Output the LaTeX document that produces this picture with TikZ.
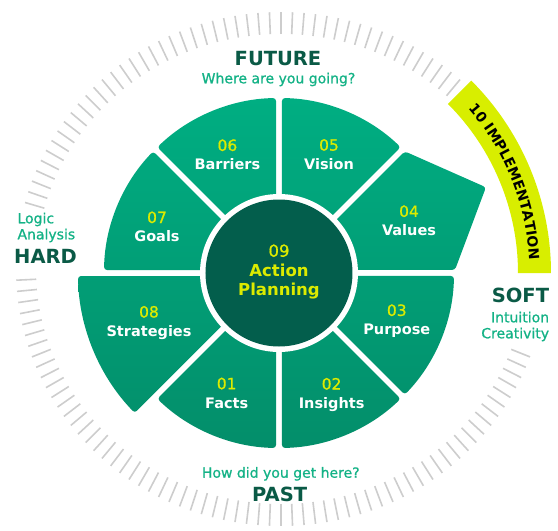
\documentclass[tikz,border=0pt]{standalone}
\usepackage{fontspec}
\setmainfont{DejaVu Sans}
\newfontfamily\mediumfont{DejaVu Sans}[FakeBold=0.9]
\usetikzlibrary{decorations.text}
\definecolor{wheeltop}{RGB}{0,174,130}
\definecolor{wheelbot}{RGB}{3,142,106}
\definecolor{hubgreen}{RGB}{3,94,76}
\definecolor{numyellow}{RGB}{220,235,0}
\definecolor{bandyellow}{RGB}{216,238,0}
\definecolor{headgreen}{RGB}{10,90,70}
\definecolor{subgreen}{RGB}{20,178,134}
\definecolor{tickgray}{RGB}{205,205,205}
\tikzset{
  ringtick/.style={draw=tickgray, line width=1.6pt},
  segnum/.style={text=numyellow, anchor=base, inner sep=0pt, font=\fontsize{15.5}{17}\mediumfont},
  seglabel/.style={text=white, anchor=base, inner sep=0pt, font=\fontsize{14.5}{16}\selectfont\bfseries},
  heading/.style={text=headgreen, inner sep=0pt, font=\fontsize{19.5}{22}\selectfont\bfseries},
  subhead/.style={text=subgreen, inner sep=0pt, font=\fontsize{14}{16}\mediumfont},
}
\begin{document}
\begin{tikzpicture}[x=1pt,y=1pt]
  \useasboundingbox (-279,-258) rectangle (279,273);
  % outer ring of ticks
  \foreach \t in {47.5,50,...,165}
    \draw[ringtick] ({2+245*cos(\t)},{4+235*sin(\t)}) -- ({2+265*cos(\t)},{4+257*sin(\t)});
  \foreach \t in {182.5,185,...,340}
    \draw[ringtick] ({2+245*cos(\t)},{4+235*sin(\t)}) -- ({2+265*cos(\t)},{4+257*sin(\t)});
  % implementation band
  \fill[bandyellow] (0:239) arc[start angle=0, end angle=45, radius=239]
    -- (45:272) arc[start angle=45, end angle=0, radius=272] -- cycle;
  \path[decorate, decoration={text along path, text align=center,
      text={|\fontsize{14}{14}\selectfont\bfseries| 10  IMPLEMENTATION}}]
    (45:250.5) arc[start angle=45, end angle=0, radius=250.5];
  % sectors, 3pt off each radial line
  \shade[top color=wheeltop, bottom color=wheelbot, rounded corners=3pt]
    \foreach \a in {45,90,135,225,270,315} {
      ({\a+22.5}:7.84) -- ({\a+0.98}:175)
        arc[start angle={\a+0.98}, end angle={\a+44.02}, radius=175] -- cycle }
    (202.5:7.84) -- (180.86:201) arc[start angle=180.86, end angle=224.14, radius=201] -- cycle
    (22.5:7.84) -- (0.98:176) -- (22.5:224) -- (44.02:175) -- cycle;
  % hub
  \fill[white] (0,0) circle (79);
  \fill[hubgreen] (0,0) circle (73.5);
  \node[segnum, font=\fontsize{16.5}{18}\mediumfont] (num09) at (0,16.3) {09};
  \node[seglabel, text=numyellow, font=\fontsize{16.5}{18}\selectfont\bfseries] (lab09a) at (0,-3) {Action};
  \node[seglabel, text=numyellow, font=\fontsize{16.5}{18}\selectfont\bfseries] (lab09b) at (0,-22.3) {Planning};
  % segment texts
  \foreach \n/\name/\x/\y in {06/Barriers/-51.6/103.3, 05/Vision/50/103.6,
      07/Goals/-122/31.2, 04/Values/130/37.3, 08/Strategies/-130/-63.3,
      03/Purpose/117.8/-61.7, 01/Facts/-52.3/-135, 02/Insights/52.6/-135.3} {
    \node[segnum] (num\n) at (\x,\y+18.8) {\n};
    \node[seglabel] (lab\n) at (\x,\y) {\name};
  }
  % outer labels
  \node[heading, anchor=base] (future) at (-1,207.1) {FUTURE};
  \node[subhead, anchor=base] (futuresub) at (-0.5,189.7) {Where are you going?};
  \node[subhead, anchor=base] (pastsub) at (1.8,-204.7) {How did you get here?};
  \node[heading, anchor=base] (past) at (0.7,-228.7) {PAST};
  \node[subhead, anchor=base west] (logic) at (-261.7,49.7) {Logic};
  \node[subhead, anchor=base west] (analysis) at (-261.7,33.7) {Analysis};
  \node[heading, anchor=base west] (hard) at (-265,9.7) {HARD};
  \node[heading, anchor=base east] (soft) at (270.3,-29.7) {SOFT};
  \node[subhead, anchor=base east] (intuition) at (270.3,-49.3) {Intuition};
  \node[subhead, anchor=base east] (creativity) at (270.3,-65.3) {Creativity};
\end{tikzpicture}
\end{document}
